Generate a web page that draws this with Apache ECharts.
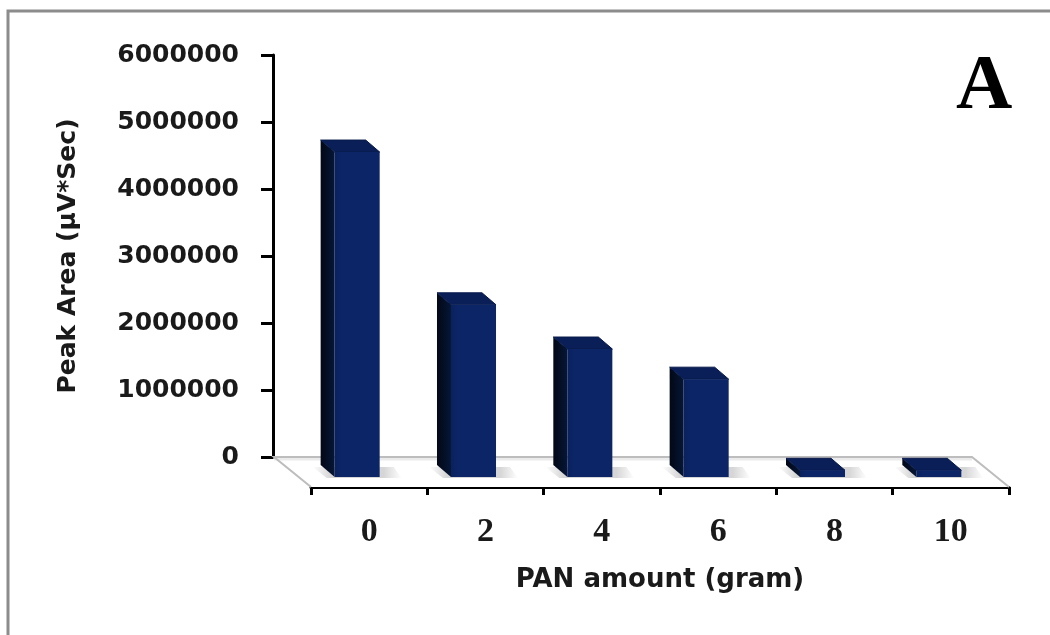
<!DOCTYPE html>
<html>
<head>
<meta charset="utf-8">
<script src="https://cdn.jsdelivr.net/npm/echarts@6/dist/echarts.min.js"></script>
<style>
html,body{margin:0;padding:0;background:#ffffff;}
#chart{width:1050px;height:635px;}
</style>
</head>
<body>
<div id="chart"></div>
<script>
// ---- data ----
const categories = ['0', '2', '4', '6', '8', '10'];
const peakArea = [4850000, 2570000, 1910000, 1460000, 100000, 100000];
const yMin = 0;
const yMax = 6000000;
const yStep = 1000000;
const xTitle = 'PAN amount (gram)';
const yTitle = 'Peak Area (µV*Sec)';
const panelLabel = 'A';

// ---- styling constants ----
const FLOOR_DX = -37, FLOOR_DY = -30;   // depth of the 3D floor
const PLANE_DX = -12, PLANE_DY = -10;   // front face of bars lies behind the front edge
const BAR_DX = -14, BAR_DY = -12;       // depth of each bar
const BAR_FRAC = 0.387;

const chart = echarts.init(document.getElementById('chart'), null, {renderer: 'canvas'});

function renderFloor(params, api) {
  const band = api.size([1, 0])[0];
  const pL = api.coord([0, 0]);
  const pR = api.coord([categories.length - 1, 0]);
  const fl = [pL[0] - band / 2, pL[1]];
  const fr = [pR[0] + band / 2, pR[1]];
  const bl = [fl[0] + FLOOR_DX, fl[1] + FLOOR_DY];
  const br = [fr[0] + FLOOR_DX, fr[1] + FLOOR_DY];
  return {
    type: 'group',
    children: [
      {type: 'polygon', shape: {points: [fl, fr, br, bl]},
       style: {fill: '#ffffff', stroke: null}},
      {type: 'line', shape: {x1: bl[0], y1: bl[1] + 2, x2: br[0], y2: br[1] + 2},
       style: {stroke: 'rgba(0,0,0,0.08)', lineWidth: 3}},
      {type: 'polyline', shape: {points: [fl, bl, br, fr]},
       style: {stroke: '#bdbdbd', lineWidth: 2, fill: null}}
    ]
  };
}

function renderBar(params, api) {
  const i = api.value(0);
  const v = api.value(1);
  const band = api.size([1, 0])[0];
  const base = api.coord([i, 0]);
  const top = api.coord([i, v]);
  const fw = band * BAR_FRAC;
  const x0 = base[0] + PLANE_DX - fw / 2;
  const x1 = x0 + fw;
  const yb = base[1] + PLANE_DY;
  const yt = top[1] + PLANE_DY;
  return {
    type: 'group',
    children: [
      {type: 'polygon',
       shape: {points: [[x0 + BAR_DX - 8, yb + BAR_DY + 2], [x1 + 14, yb + BAR_DY + 2], [x1 + 22, yb + 1], [x0 - 8, yb + 1]]},
       style: {fill: {type: 'linear', x: 0, y: 0, x2: 1, y2: 0,
         colorStops: [{offset: 0, color: 'rgba(0,0,0,0)'}, {offset: 0.2, color: 'rgba(0,0,0,0.16)'},
                      {offset: 0.8, color: 'rgba(0,0,0,0.16)'}, {offset: 1, color: 'rgba(0,0,0,0)'}]}}},
      {type: 'polygon',
       shape: {points: [[x0, yb], [x0, yt], [x0 + BAR_DX, yt + BAR_DY], [x0 + BAR_DX, yb + BAR_DY]]},
       style: {fill: {type: 'linear', x: 0, y: 0, x2: 1, y2: 0,
         colorStops: [{offset: 0, color: '#020816'}, {offset: 1, color: '#061636'}]}}},
      {type: 'polygon',
       shape: {points: [[x0, yt], [x1, yt], [x1 + BAR_DX, yt + BAR_DY], [x0 + BAR_DX, yt + BAR_DY]]},
       style: {fill: '#0a1f57', stroke: '#081a4a', lineWidth: 1}},
      {type: 'rect', shape: {x: x0, y: yt, width: fw, height: Math.max(0, yb - yt)},
       style: {fill: {type: 'linear', x: 0, y: 0, x2: 1, y2: 0,
         colorStops: [{offset: 0, color: '#0a215e'}, {offset: 0.15, color: '#0c2566'}, {offset: 1, color: '#0c2566'}]}}}
    ]
  };
}

const option = {
  backgroundColor: '#ffffff',
  animation: false,
  grid: [
    {left: 311, top: 85, width: 698, height: 402},
    {left: 273, top: 55, width: 700, height: 402}
  ],
  xAxis: [
    {
      gridIndex: 0, type: 'category', data: categories, boundaryGap: true,
      axisLine: {show: true, lineStyle: {color: '#000', width: 3}},
      axisTick: {show: true, length: 8, inside: false, lineStyle: {color: '#000', width: 3}},
      axisLabel: {margin: 28, color: '#1a1a1a', fontFamily: 'Liberation Serif', fontWeight: 'bold', fontSize: 34},
      splitLine: {show: false},
      name: xTitle, nameLocation: 'middle', nameGap: 80,
      nameTextStyle: {color: '#1a1a1a', fontFamily: 'DejaVu Sans', fontWeight: 'bold', fontSize: 26}
    },
    {gridIndex: 1, type: 'category', data: categories, show: false}
  ],
  yAxis: [
    {gridIndex: 0, type: 'value', min: yMin, max: yMax, interval: yStep, show: false, splitLine: {show: false}},
    {
      gridIndex: 1, type: 'value', min: yMin, max: yMax, interval: yStep,
      axisLine: {show: true, lineStyle: {color: '#000', width: 3}},
      axisTick: {show: true, length: 12, inside: false, lineStyle: {color: '#000', width: 3}},
      axisLabel: {margin: 34, color: '#1a1a1a', fontFamily: 'DejaVu Sans', fontWeight: 'bold', fontSize: 25,
                  formatter: function (v) { return String(v); }},
      splitLine: {show: false},
      name: yTitle, nameLocation: 'middle', nameGap: 192, nameRotate: 90,
      nameTextStyle: {color: '#1a1a1a', fontFamily: 'DejaVu Sans', fontWeight: 'bold', fontSize: 25}
    }
  ],
  series: [
    {type: 'custom', xAxisIndex: 0, yAxisIndex: 0, data: [[0, 0]], renderItem: renderFloor, silent: true, z: 1},
    {type: 'custom', xAxisIndex: 0, yAxisIndex: 0,
     data: peakArea.map((v, i) => [i, v]), encode: {x: 0, y: 1},
     renderItem: renderBar, z: 3}
  ],
  graphic: [
    {type: 'polyline', silent: true, z: 0,
     shape: {points: [[8, 635], [8, 11], [1050, 11]]},
     style: {stroke: '#8c8c8c', lineWidth: 3, fill: null}},
    {type: 'text', left: 956, top: 49, silent: true,
     style: {text: panelLabel, fill: '#000', font: 'bold 78px "Liberation Serif"'}}
  ]
};
chart.setOption(option);
</script>
</body>
</html>
